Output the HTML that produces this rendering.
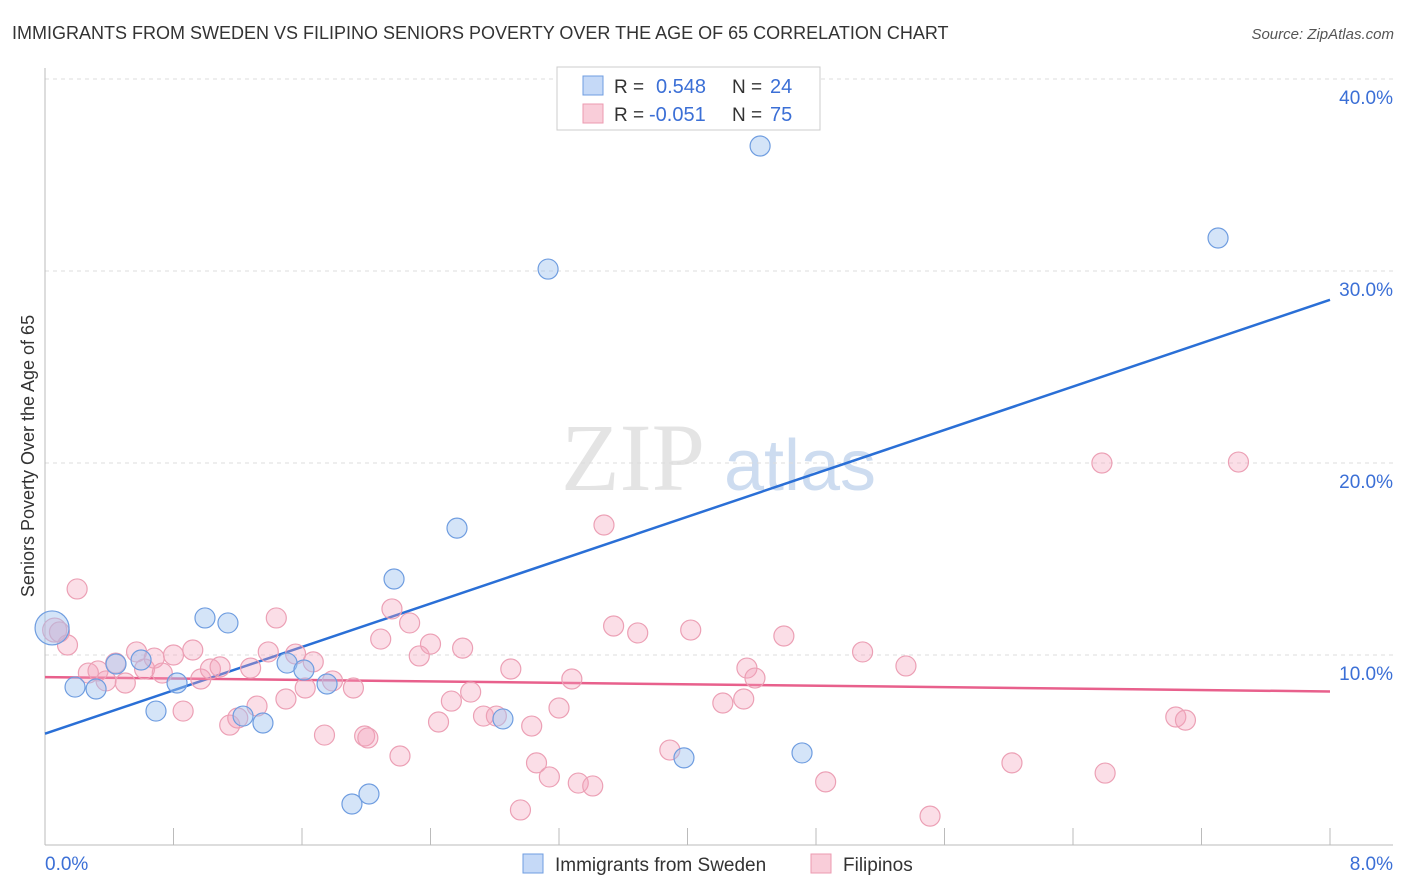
<!DOCTYPE html>
<html><head><meta charset="utf-8"><style>
body{margin:0;background:#fff;font-family:"Liberation Sans",sans-serif;}
</style></head><body>
<svg id="chart" width="1406" height="892" xmlns="http://www.w3.org/2000/svg" style="display:block">
<text x="12" y="39" font-size="18" fill="#333">IMMIGRANTS FROM SWEDEN VS FILIPINO SENIORS POVERTY OVER THE AGE OF 65 CORRELATION CHART</text>
<text x="1394" y="39" font-size="15" fill="#555" text-anchor="end" font-style="italic">Source: ZipAtlas.com</text>
<g><text x="633" y="490" font-size="96" font-family="Liberation Serif,serif" fill="#e4e4e4" text-anchor="middle">ZIP</text><text x="800" y="490" font-size="72" fill="#cddcf0" text-anchor="middle">atlas</text></g>
<g id="grid"></g>
<g id="axes"></g>
<g id="lines"></g>
<g id="points"></g>
<text transform="translate(34,456) rotate(-90)" font-size="18" fill="#333" text-anchor="middle">Seniors Poverty Over the Age of 65</text>
<g>
<rect x="557" y="67" width="263" height="63" fill="#fff" stroke="#ccc"/>
<rect x="583" y="76" width="20" height="19" fill="#c5d9f7" stroke="#6f9de0"/>
<text x="614" y="93" font-size="19" fill="#333">R =</text><text x="656" y="93" font-size="20" fill="#3b6fd6">0.548</text>
<text x="732" y="93" font-size="19" fill="#333">N =</text><text x="770" y="93" font-size="20" fill="#3b6fd6">24</text>
<rect x="583" y="104" width="20" height="19" fill="#f9cdd9" stroke="#ec9ab0"/>
<text x="614" y="121" font-size="19" fill="#333">R =</text><text x="649" y="121" font-size="20" fill="#3b6fd6">-0.051</text>
<text x="732" y="121" font-size="19" fill="#333">N =</text><text x="770" y="121" font-size="20" fill="#3b6fd6">75</text>
</g>
<g>
<rect x="523" y="854" width="20" height="19" fill="#c5d9f7" stroke="#6f9de0"/>
<text x="555" y="871" font-size="19" fill="#333">Immigrants from Sweden</text>
<rect x="811" y="854" width="20" height="19" fill="#f9cdd9" stroke="#ec9ab0"/>
<text x="843" y="871" font-size="19" fill="#333">Filipinos</text>
</g>
</svg>
<script>
const yTicks=[10,20,30,40];
const yTickLabels=["10.0%","20.0%","30.0%","40.0%"];
const xTickLabels=["0.0%","8.0%"];
const swedenX=[0.044,0.187,0.318,0.442,0.598,0.691,0.822,0.996,1.139,1.233,1.357,1.507,1.612,1.756,1.911,2.017,2.173,2.565,2.851,3.132,3.978,4.452,4.713,7.303];
const swedenY=[11.41,8.33,8.23,9.53,9.74,7.08,8.54,11.93,11.67,6.82,6.46,9.58,9.22,8.49,2.24,2.76,13.96,16.61,6.67,30.1,4.64,36.51,4.90,31.72];
const filX=[0.06,0.09,0.14,0.20,0.27,0.33,0.38,0.44,0.50,0.57,0.62,0.68,0.73,0.80,0.86,0.92,0.97,1.03,1.09,1.15,1.20,1.28,1.32,1.39,1.44,1.50,1.56,1.62,1.67,1.74,1.79,1.92,1.99,2.01,2.09,2.16,2.21,2.27,2.33,2.40,2.45,2.53,2.60,2.65,2.73,2.81,2.90,2.96,3.03,3.06,3.14,3.20,3.28,3.32,3.41,3.48,3.54,3.69,3.89,4.02,4.22,4.35,4.37,4.42,4.60,4.86,5.09,5.36,5.51,6.02,6.58,6.60,7.04,7.10,7.43];
const filY=[11.30,11.20,10.52,13.44,9.06,9.17,8.65,9.58,8.54,10.16,9.27,9.84,9.06,10.0,7.08,10.26,8.75,9.27,9.38,6.35,6.72,9.32,7.34,10.16,11.93,7.71,10.05,8.28,9.64,5.83,8.65,8.28,5.78,5.68,10.83,12.40,4.74,11.67,9.95,10.57,6.51,7.60,10.36,8.07,6.82,6.82,9.27,1.93,6.30,4.38,3.65,7.24,8.75,3.33,3.18,16.77,11.51,11.15,5.05,11.30,7.50,7.71,9.32,8.80,10.99,3.39,10.16,9.43,1.61,4.38,20.0,3.85,6.77,6.61,20.05];
const swedenTrend=[5.9,28.5];
const filTrend=[8.85,8.1];
const NS="http://www.w3.org/2000/svg";
const X=v=>45+v*(1285/8);
const Y=v=>847-v*19.2;
function mk(t,a,p){const e=document.createElementNS(NS,t);for(const k in a)e.setAttribute(k,a[k]);p.appendChild(e);return e;}
const grid=document.getElementById('grid'),axes=document.getElementById('axes'),lines=document.getElementById('lines'),pts=document.getElementById('points');
yTicks.forEach((t,i)=>{
 const l=mk('line',{x1:45,x2:1393,y1:Y(t),y2:Y(t),stroke:'#ddd','stroke-dasharray':'4,4'},grid);
 
 
 const tx=mk('text',{x:1393,y:Y(t)+25,'font-size':19,fill:'#3b6fd6','text-anchor':'end'},axes);
 tx.textContent=yTickLabels[i];
 
 
});
const ya=mk('line',{x1:45,x2:45,y1:68,y2:845,stroke:'#bbb'},axes);


const xa=mk('line',{x1:45,x2:1393,y1:845,y2:845,stroke:'#bbb'},axes);


for(let i=1;i<=10;i++){const tk=mk('line',{x1:X(i*0.8),x2:X(i*0.8),y1:828,y2:845,stroke:'#bbb'},axes);
 
 }
const xl0=mk('text',{x:45,y:870,'font-size':19,fill:'#3b6fd6'},axes);xl0.textContent=xTickLabels[0];


const xl1=mk('text',{x:1393,y:870,'font-size':19,fill:'#3b6fd6','text-anchor':'end'},axes);xl1.textContent=xTickLabels[1];


function dots(xs,ys,fill,stroke,name){xs.forEach((x,i)=>{
 const c=mk('circle',{cx:X(x),cy:Y(ys[i]),r:i===0?(name==='sweden-point'?17:12):10,fill:fill,stroke:stroke,'stroke-width':1.2},pts);
 
 });}
dots(filX,filY,'rgba(244,160,185,0.35)','#eca0b5','filipino-point');
dots(swedenX,swedenY,'rgba(160,195,240,0.45)','#6f9de0','sweden-point');
const bl=mk('line',{x1:X(0),y1:Y(swedenTrend[0]),x2:X(8),y2:Y(swedenTrend[1]),stroke:'#2a6fd6','stroke-width':2.5},lines);


const pl=mk('line',{x1:X(0),y1:Y(filTrend[0]),x2:X(8),y2:Y(filTrend[1]),stroke:'#e8608c','stroke-width':2.5},lines);


</script>
</body></html>
